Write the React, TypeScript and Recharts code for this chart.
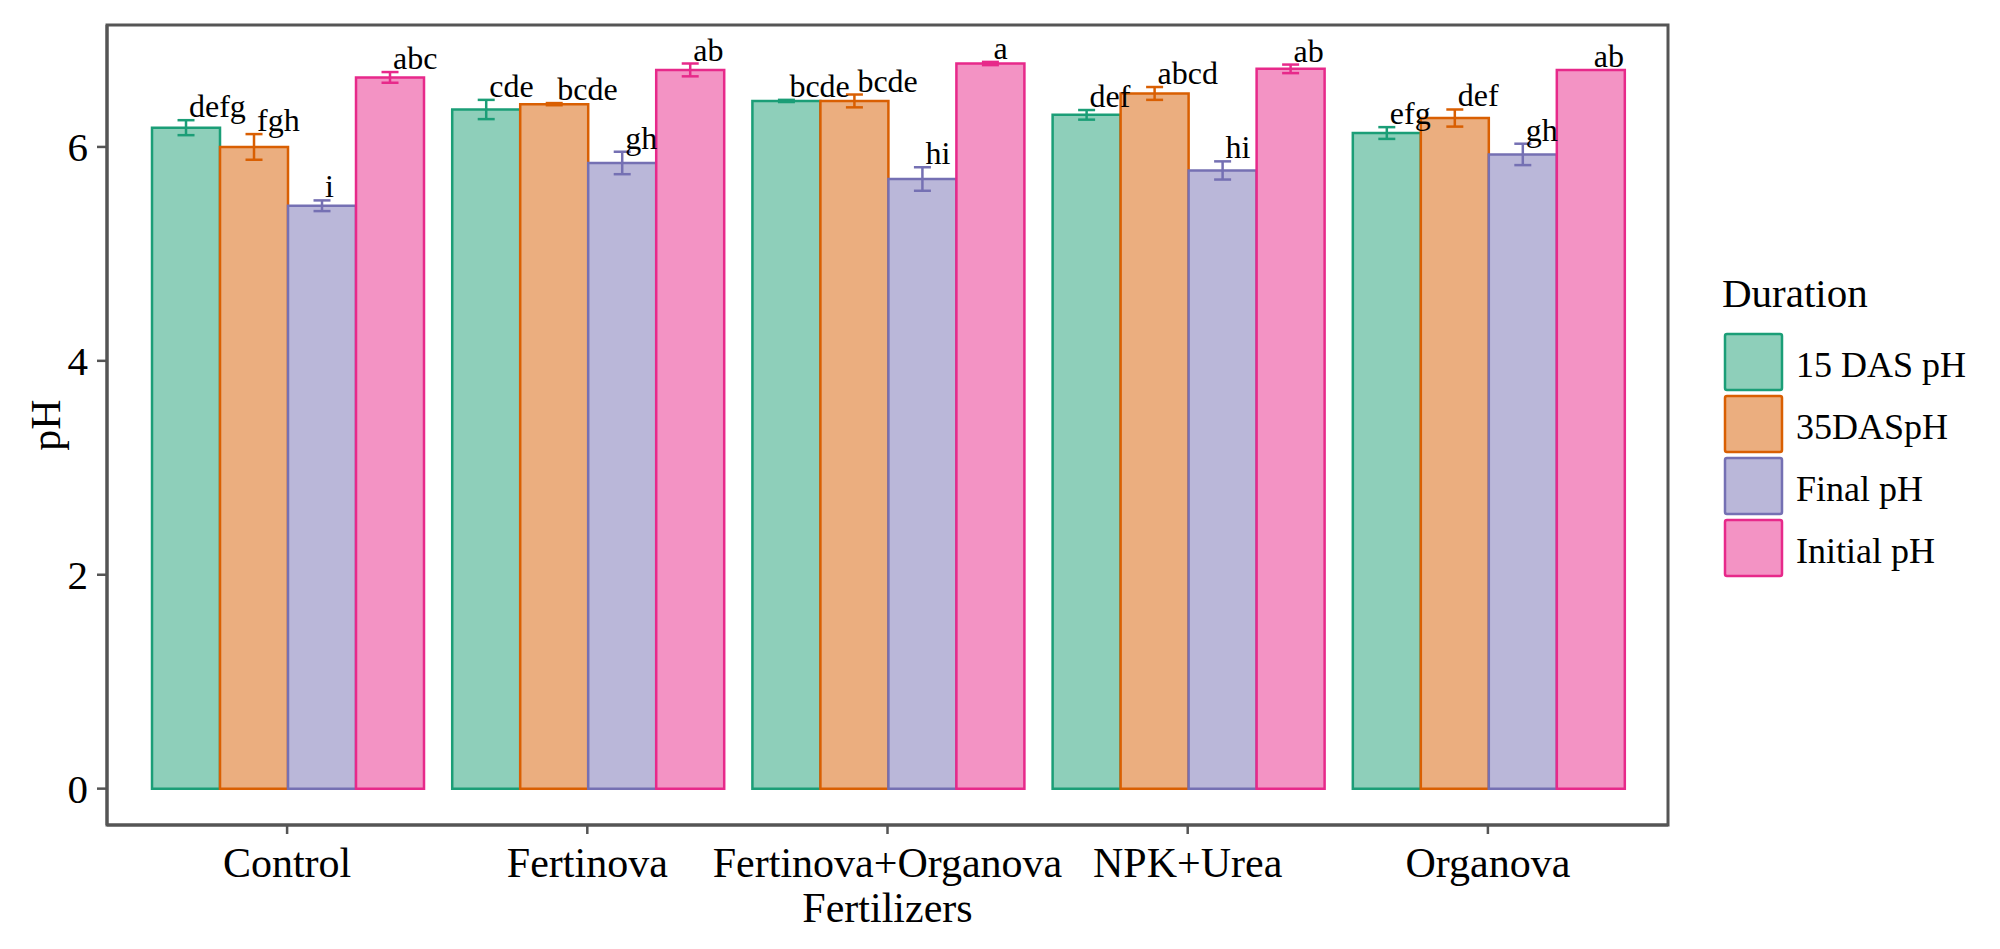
import React from 'react';
import { BarChart, Bar, XAxis, YAxis, ErrorBar, LabelList, Label } from 'recharts';

const categories = ['Control', 'Fertinova', 'Fertinova+Organova', 'NPK+Urea', 'Organova'];

const das15 = [6.18, 6.35, 6.43, 6.3, 6.13];
const das15Err = [0.07, 0.09, 0.01, 0.045, 0.055];
const das15Letters = ['defg', 'cde', 'bcde', 'def', 'efg'];

const das35 = [6.0, 6.4, 6.43, 6.5, 6.27];
const das35Err = [0.12, 0.01, 0.06, 0.06, 0.08];
const das35Letters = ['fgh', 'bcde', 'bcde', 'abcd', 'def'];

const finalPh = [5.45, 5.85, 5.7, 5.78, 5.93];
const finalErr = [0.05, 0.105, 0.11, 0.085, 0.1];
const finalLetters = ['i', 'gh', 'hi', 'hi', 'gh'];

const initialPh = [6.65, 6.72, 6.78, 6.73, 6.72];
const initialErr = [0.05, 0.06, 0.015, 0.04, 0];
const initialLetters = ['abc', 'ab', 'a', 'ab', 'ab'];

const yTicks = [0, 2, 4, 6];

const FONT = '"Liberation Serif", "Times New Roman", serif';
const AXIS = '#555555';

// plot panel box (matches chart margins + axis sizes below)
const PANEL = { x: 107, y: 25, w: 1561, h: 800 };

const data = categories.map((name, i) => ({
  name,
  das15: das15[i],
  das15Err: das15Err[i],
  das35: das35[i],
  das35Err: das35Err[i],
  final: finalPh[i],
  finalErr: finalErr[i],
  initial: initialPh[i],
  initialErr: initialErr[i],
}));

const series = [
  { key: 'das15', err: 'das15Err', name: '15 DAS pH', fill: '#8ECFBA', stroke: '#1B9E77', errs: das15Err, letters: das15Letters },
  { key: 'das35', err: 'das35Err', name: '35DASpH', fill: '#EBAE7F', stroke: '#D95F02', errs: das35Err, letters: das35Letters },
  { key: 'final', err: 'finalErr', name: 'Final pH', fill: '#BAB7D9', stroke: '#7570B3', errs: finalErr, letters: finalLetters },
  { key: 'initial', err: 'initialErr', name: 'Initial pH', fill: '#F393C4', stroke: '#E7298A', errs: initialErr, letters: initialLetters },
];

const letterLabel = (letters: string[], errs: number[]) => (props: any) => {
  const vb = props.viewBox || {};
  const x = props.x ?? vb.x;
  const y = props.y ?? vb.y;
  const width = props.width ?? vb.width;
  const height = props.height ?? vb.height;
  const value = Number(props.value);
  const i = props.index;
  const perUnit = value ? height / value : 0;
  const top = y - errs[i] * perUnit;
  return (
    <text x={x + width / 2 + 3} y={top - 3} fontSize={32} fontFamily={FONT} fill="#000" textAnchor="start">
      {letters[i]}
    </text>
  );
};

const Legend = () => (
  <svg width={300} height={380} style={{ position: 'absolute', left: 1700, top: 260 }}>
    <text x={22} y={47} fontSize={41} fontFamily={FONT} fill="#000">Duration</text>
    {series.map((s, i) => (
      <g key={s.key}>
        <rect x={25} y={74 + i * 62} width={57} height={56} rx={2} fill={s.fill} stroke={s.stroke} strokeWidth={2.5} />
        <text x={96} y={74 + i * 62 + 43} fontSize={36} fontFamily={FONT} fill="#000">{s.name}</text>
      </g>
    ))}
  </svg>
);

export default function App() {
  return (
    <div style={{ position: 'absolute', left: 0, top: 0, width: 2000, height: 949, background: '#fff' }}>
      <BarChart
        width={2000}
        height={949}
        data={data}
        margin={{ top: 25, right: 332, bottom: 0, left: 0 }}
        barCategoryGap="5%"
        barGap={0}
      >
        <XAxis
          dataKey="name"
          height={124}
          padding={{ left: 30, right: 30 }}
          interval={0}
          tickSize={9}
          tickMargin={13}
          axisLine={{ stroke: AXIS, strokeWidth: 3 }}
          tickLine={{ stroke: AXIS, strokeWidth: 2.5 }}
          tick={{ fontSize: 42, fontFamily: FONT, fill: '#000' }}
        >
          <Label
            content={(p: any) => {
              const vb = p.viewBox;
              return (
                <text x={vb.x + vb.width / 2} y={922} fontSize={42} fontFamily={FONT} fill="#000" textAnchor="middle">
                  Fertilizers
                </text>
              );
            }}
          />
        </XAxis>
        <YAxis
          width={107}
          domain={[-0.34, 7.14]}
          ticks={yTicks}
          allowDataOverflow
          tickSize={10}
          tickMargin={9}
          axisLine={{ stroke: AXIS, strokeWidth: 3 }}
          tickLine={{ stroke: AXIS, strokeWidth: 2.5 }}
          tick={{ fontSize: 41, fontFamily: FONT, fill: '#000' }}
        >
          <Label
            content={(p: any) => {
              const vb = p.viewBox;
              const cy = vb.y + vb.height / 2;
              return (
                <text x={46} y={cy} transform={`rotate(-90 46 ${cy})`} fontSize={42} fontFamily={FONT} fill="#000" textAnchor="middle" dominantBaseline="central">
                  pH
                </text>
              );
            }}
          />
        </YAxis>
        {series.map((s) => (
          <Bar key={s.key} dataKey={s.key} name={s.name} fill={s.fill} stroke={s.stroke} strokeWidth={2.5} isAnimationActive={false}>
            <ErrorBar dataKey={s.err} width={8.5} stroke={s.stroke} strokeWidth={2.5} direction="y" isAnimationActive={false} />
            <LabelList dataKey={s.key} content={letterLabel(s.letters, s.errs)} />
          </Bar>
        ))}
      </BarChart>
      <svg width={2000} height={949} style={{ position: 'absolute', left: 0, top: 0, pointerEvents: 'none' }}>
        <rect x={PANEL.x} y={PANEL.y} width={PANEL.w} height={PANEL.h} fill="none" stroke={AXIS} strokeWidth={3} />
      </svg>
      <Legend />
    </div>
  );
}
